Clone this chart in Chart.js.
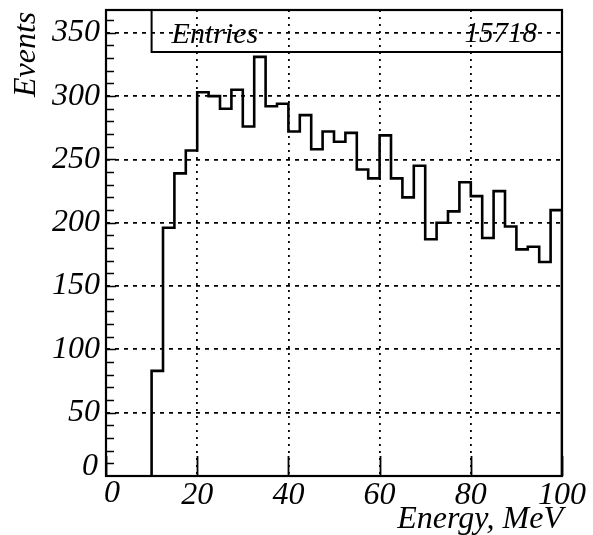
<!DOCTYPE html>
<html>
<head>
<meta charset="utf-8">
<title>Events vs Energy</title>
<script src="https://cdn.jsdelivr.net/npm/chart.js@4.4.0/dist/chart.umd.min.js"></script>
<style>
    html, body { margin: 0; padding: 0; background: #fff; }
    #wrap { width: 593px; height: 535px; }
</style>
</head>
<body>
<div id="wrap"><canvas id="histChart" width="593" height="535"></canvas></div>
<script>
// ============ DATA ============

// lower edges of the 2.5 MeV bins, last upper edge separately
const binLow = [10, 12.5, 15, 17.5, 20, 22.5, 25, 27.5, 30, 32.5, 35, 37.5,
                40, 42.5, 45, 47.5, 50, 52.5, 55, 57.5, 60, 62.5, 65, 67.5,
                70, 72.5, 75, 77.5, 80, 82.5, 85, 87.5, 90, 92.5, 95, 97.5];
const binHigh = 100;

const counts = [83, 196, 239, 257, 303, 300, 290, 305, 276, 331, 292, 294,
                272, 285, 258, 272, 264, 271, 242, 235, 269, 235, 220, 245,
                187, 200, 209, 232, 221, 188, 225, 197, 179, 181, 169, 210];

const entries = 15718;

const xTicks = [0, 20, 40, 60, 80, 100];
const yTicks = [0, 50, 100, 150, 200, 250, 300, 350];
const xRange = [0, 100];
const yRange = [0, 368];

const FONT = '"Liberation Serif", "Times New Roman", serif';

// ============ HISTOGRAM OUTLINE ============

// step outline: rise at the first edge, fall back to zero at the last one
function buildOutline() {
    const pts = [{ x: binLow[0], y: 0 }];
    binLow.forEach((x, i) => pts.push({ x: x, y: counts[i] }));
    pts.push({ x: binHigh, y: 0 });
    return pts;
}

// ============ FRAME / DECORATIONS ============

const framePlugin = {
    id: 'paw_frame',
    afterDraw(chart) {
        const ctx = chart.ctx;
        const a = chart.chartArea;
        const xs = chart.scales.x;
        const ys = chart.scales.y;

        ctx.save();
        ctx.strokeStyle = '#000';
        ctx.fillStyle = '#000';

        // inner ticks on the y axis, every 10 events
        ctx.lineWidth = 1.6;
        ctx.beginPath();
        for (let v = 10; v < yRange[1]; v += 10) {
            const py = Math.round(ys.getPixelForValue(v)) + 0.5;
            const len = v % 50 === 0 ? 10 : 8;
            ctx.moveTo(a.left, py);
            ctx.lineTo(a.left + len, py);
        }
        ctx.stroke();

        // inner ticks on the x axis at the labelled values
        ctx.lineWidth = 1.8;
        ctx.beginPath();
        xTicks.forEach(v => {
            const px = Math.round(xs.getPixelForValue(v)) + 0.5;
            ctx.moveTo(px, a.bottom);
            ctx.lineTo(px, a.bottom - 20);
        });
        ctx.stroke();

        // plot frame
        ctx.lineWidth = 2.2;
        ctx.strokeRect(a.left, a.top, a.right - a.left, a.bottom - a.top);

        // statistics box
        const boxLeft = xs.getPixelForValue(10);
        const boxBottom = a.top + 42;
        ctx.lineWidth = 2;
        ctx.beginPath();
        ctx.moveTo(boxLeft, a.top);
        ctx.lineTo(boxLeft, boxBottom);
        ctx.lineTo(a.right, boxBottom);
        ctx.stroke();

        ctx.font = 'italic 30px ' + FONT;
        ctx.textBaseline = 'alphabetic';
        ctx.textAlign = 'left';
        ctx.fillText('Entries', boxLeft + 20, a.top + 33);
        ctx.font = 'italic 29px ' + FONT;
        ctx.textAlign = 'right';
        ctx.fillText(String(entries), a.right - 25, a.top + 32);

        // the two zeros at the origin are staggered so they don't collide
        ctx.font = 'italic 32px ' + FONT;
        ctx.textAlign = 'right';
        ctx.textBaseline = 'middle';
        ctx.fillText('0', a.left - 8, ys.getPixelForValue(0) - 9);
        ctx.textAlign = 'center';
        ctx.textBaseline = 'top';
        ctx.fillText('0', xs.getPixelForValue(0) + 6, a.bottom + 2);

        // axis titles
        ctx.textBaseline = 'alphabetic';
        ctx.textAlign = 'right';
        ctx.fillText('Energy, MeV', a.right + 1, 528);

        ctx.translate(35, 97);
        ctx.rotate(-Math.PI / 2);
        ctx.textAlign = 'left';
        ctx.fillText('Events', 0, 0);

        ctx.restore();
    }
};

// ============ CHART ============

const ctx = document.getElementById('histChart').getContext('2d');

const chart = new Chart(ctx, {
    type: 'line',
    data: {
        datasets: [{
            label: 'Events',
            data: buildOutline(),
            stepped: 'before',
            borderColor: '#000',
            borderWidth: 2.6,
            pointRadius: 0,
            fill: false,
            tension: 0
        }]
    },
    options: {
        responsive: false,
        animation: false,
        devicePixelRatio: 1,
        layout: { padding: { left: 0, right: 31, top: 10, bottom: 0 } },
        plugins: {
            legend: { display: false },
            tooltip: { enabled: false }
        },
        scales: {
            x: {
                type: 'linear',
                min: xRange[0],
                max: xRange[1],
                afterBuildTicks: (scale) => {
                    scale.ticks = xTicks.map(v => ({ value: v }));
                },
                afterFit: (scale) => {
                    scale.height = 59;
                    scale.paddingLeft = 0;
                    scale.paddingRight = 0;
                },
                grid: {
                    color: '#000',
                    lineWidth: 1.8,
                    drawTicks: false
                },
                border: { display: false, dash: [2, 5] },
                ticks: {
                    color: '#000',
                    padding: 0,
                    maxRotation: 0,
                    autoSkip: false,
                    // zero is drawn by the frame plugin
                    callback: (v) => (v === 0 ? '' : v),
                    font: { family: FONT, size: 32, style: 'italic' }
                }
            },
            y: {
                type: 'linear',
                min: yRange[0],
                max: yRange[1],
                afterBuildTicks: (scale) => {
                    scale.ticks = yTicks.map(v => ({ value: v }));
                },
                afterFit: (scale) => {
                    scale.width = 106;
                    scale.paddingTop = 0;
                    scale.paddingBottom = 0;
                },
                grid: {
                    color: '#000',
                    lineWidth: 1.8,
                    drawTicks: false
                },
                border: { display: false, dash: [4, 5] },
                ticks: {
                    color: '#000',
                    padding: 6,
                    autoSkip: false,
                    callback: (v) => (v === 0 ? '' : v),
                    font: { family: FONT, size: 32, style: 'italic' }
                }
            }
        }
    },
    plugins: [framePlugin]
});
</script>
</body>
</html>
